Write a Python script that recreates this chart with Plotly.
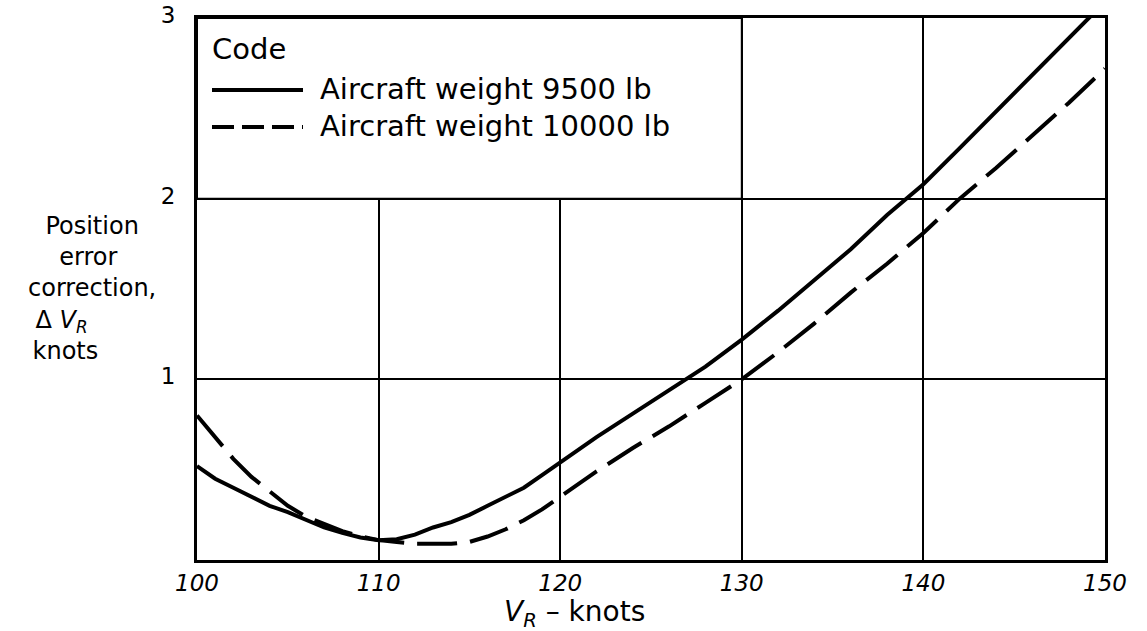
import plotly.graph_objects as go

# --- data ---
speed_9500 = [100, 101, 102, 103, 104, 105, 106, 107, 108, 109, 110, 111, 112, 113,
              114, 115, 116, 117, 118, 119, 120, 122, 124, 126, 127, 128, 130, 132,
              134, 136, 138, 140, 142, 144, 146, 148, 150]
pec_9500 = [0.52, 0.45, 0.40, 0.35, 0.30, 0.265, 0.22, 0.18, 0.15, 0.125, 0.11, 0.115,
            0.14, 0.18, 0.21, 0.25, 0.30, 0.35, 0.40, 0.47, 0.54, 0.68, 0.81, 0.94,
            1.0, 1.07, 1.22, 1.38, 1.55, 1.72, 1.91, 2.08, 2.28, 2.48, 2.68, 2.88, 3.09]

speed_10000 = [100, 101, 102, 103, 104, 105, 106, 107, 108, 109, 110, 111, 112, 113,
               114, 115, 116, 117, 118, 119, 120, 122, 124, 126, 128, 130, 132, 134,
               136, 138, 140, 142, 144, 146, 148, 150]
pec_10000 = [0.80, 0.68, 0.56, 0.46, 0.38, 0.30, 0.24, 0.20, 0.16, 0.13, 0.11, 0.10,
             0.09, 0.09, 0.09, 0.10, 0.13, 0.17, 0.22, 0.28, 0.35, 0.49, 0.62, 0.74,
             0.87, 1.0, 1.15, 1.31, 1.48, 1.64, 1.81, 2.0, 2.17, 2.35, 2.53, 2.72]

x_ticks = [100, 110, 120, 130, 140, 150]
y_ticks = [1, 2, 3]
series_names = ["Aircraft weight 9500 lb", "Aircraft weight 10000 lb"]

NB = "\u00a0"
# trailing no-break spaces push the last two lines left, as in the original lettering
y_title = "<br>".join(["Position", "error" + NB, "correction,",
                       "\u0394 <i>V</i><sub><i>R</i></sub>" + NB * 8,
                       "knots" + NB * 7])

FONT = "DejaVu Sans"
W, H = 1147, 631
# plot area in window pixels: x 197..1105, y 18..560
X0, X1, Y0, Y1 = 197, 1105, 18, 560
L, T = X0, Y0
PW, PH = X1 - X0, Y1 - Y0
R, B = W - L - PW, H - T - PH


def px(x):
    return (x - X0) / PW


def py(y):
    return (Y1 - y) / PH


fig = go.Figure()
fig.add_trace(go.Scatter(x=speed_9500, y=pec_9500, mode="lines",
                         line=dict(color="black", width=4), showlegend=False))
fig.add_trace(go.Scatter(x=speed_10000, y=pec_10000, mode="lines",
                         line=dict(color="black", width=4, dash="40px,13px"),
                         showlegend=False))

# legend panel, blanks the grid in the upper left
fig.add_shape(type="rect", xref="x", yref="y", x0=100, x1=130, y0=2, y1=3,
              fillcolor="white", line=dict(color="black", width=2), layer="between")
fig.add_shape(type="line", xref="paper", yref="paper", x0=px(212), x1=px(303),
              y0=py(90), y1=py(90), line=dict(color="black", width=4))
fig.add_shape(type="line", xref="paper", yref="paper", x0=px(212), x1=px(303),
              y0=py(127), y1=py(127), line=dict(color="black", width=4, dash="22px,8px"))

ann = [
    dict(text="Code", x=px(210), y=py(49), xanchor="left", size=29),
    dict(text=series_names[0], x=px(318), y=py(89), xanchor="left", size=29),
    dict(text=series_names[1], x=px(318), y=py(126), xanchor="left", size=29),
    dict(text="<i>V</i><sub><i>R</i></sub> \u2013 knots", x=px(574), y=py(613),
         xanchor="center", size=28),
    dict(text=y_title, x=px(92), y=py(288), xanchor="center", size=24),
]
for a in ann:
    fig.add_annotation(xref="paper", yref="paper", showarrow=False, align="center",
                       yanchor="middle", font=dict(family=FONT, color="black",
                                                   size=a.pop("size")), **a)

fig.update_xaxes(range=[100, 150], tickvals=x_ticks,
                 ticktext=[f"<i>{v}</i>" for v in x_ticks],
                 showgrid=True, gridcolor="black", gridwidth=2,
                 showline=True, linecolor="black", linewidth=3, mirror=True,
                 ticks="", ticklabelstandoff=0, zeroline=False, automargin=False,
                 ticklabeloverflow="allow",
                 tickfont=dict(family=FONT, size=23, color="black"))
fig.update_yaxes(range=[0, 3], tickvals=y_ticks,
                 showgrid=True, gridcolor="black", gridwidth=2,
                 showline=True, linecolor="black", linewidth=3, mirror=True,
                 ticks="", ticklabelstandoff=14, ticklabelshift=-3, zeroline=False,
                 automargin=False, ticklabeloverflow="allow",
                 tickfont=dict(family=FONT, size=23, color="black"))

fig.update_layout(width=W, height=H, margin=dict(l=L, r=R, t=T, b=B),
                  plot_bgcolor="white", paper_bgcolor="white",
                  font=dict(family=FONT, color="black"))

# drop the page's default body margin so the figure fills the window exactly
fig.write_html("out.html", config={"displayModeBar": False},
               post_script="document.body.style.margin = '0';")
